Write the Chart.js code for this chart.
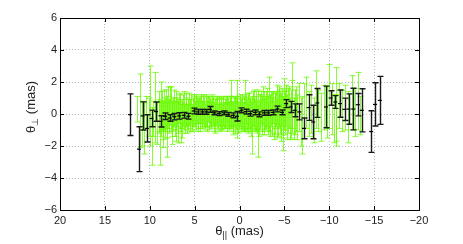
<!DOCTYPE html>
<html>
<head>
<meta charset="utf-8">
<script src="https://cdn.jsdelivr.net/npm/chart.js@4.4.0/dist/chart.umd.min.js"></script>
<style>
  body { margin: 0; background: #fff; }
  #wrap { width: 463px; height: 244px; }
</style>
</head>
<body>
<div id="wrap"><canvas id="chart" width="463" height="244"></canvas></div>
<script>
// green series: theta_par, theta_perp, error
const greenTheta = [11.4, 11.1, 10.9, 10.6, 10.4, 10.1, 9.95, 9.8, 9.6, 9.4, 9.2, 9.0, 8.85, 8.7, 8.55, 8.4, 8.25, 8.1, 7.95, 7.8,
  7.65, 7.5, 7.35, 7.2, 7.05, 6.9, 6.75, 6.6, 6.45, 6.3, 6.15, 6.0, 5.85, 5.7, 5.55, 5.4, 5.25, 5.1, 4.95, 4.8,
  4.65, 4.5, 4.35, 4.2, 4.05, 3.9, 3.75, 3.6, 3.45, 3.3, 3.15, 3.0, 2.85, 2.7, 2.55, 2.4, 2.25, 2.1, 1.95, 1.8,
  1.65, 1.5, 1.35, 1.2, 1.05, 0.9, 0.75, 0.6, 0.45, 0.3, 0.15, 0.0, -0.15, -0.3, -0.45, -0.6, -0.75, -0.9, -1.05, -1.2,
  -1.35, -1.5, -1.65, -1.8, -1.95, -2.1, -2.25, -2.4, -2.55, -2.7, -2.85, -3.0, -3.15, -3.3, -3.45, -3.6, -3.75, -3.9, -4.05, -4.2,
  -4.35, -4.5, -4.65, -4.8, -4.95, -5.1, -5.3, -5.5, -5.7, -5.9, -6.1, -6.3, -6.6, -6.8, -7.0, -7.2, -7.4, -7.7, -8.0, -8.3,
  -8.5, -8.8, -9.1, -9.4, -9.7, -10.0, -10.3, -10.5, -10.7, -10.8, -11.1, -11.4, -11.8, -12.1, -12.5, -12.9, -13.2, -13.4,
  8.925, 8.775, 8.625, 8.475, 8.325, 8.175, 8.025, 7.875, 7.725, 7.575,
  7.425, 7.275, 7.125, 6.975, 6.825, 6.675, 6.525, 6.375, 6.225, 6.075,
  5.925, 5.775, 5.625, 5.475, 5.325, 5.175, 5.025, 4.875, 4.725, 4.575,
  4.425, 4.275, 4.125, 3.975, 3.825, 3.675, 3.525, 3.375, 3.225, 3.075,
  2.925, 2.775, 2.625, 2.475, 2.325, 2.175, 2.025, 1.875, 1.725, 1.575,
  1.425, 1.275, 1.125, 0.975, 0.825, 0.675, 0.525, 0.375, 0.225, 0.075,
  -0.075, -0.225, -0.375, -0.525, -0.675, -0.825, -0.975, -1.125, -1.275, -1.425,
  -1.575, -1.725, -1.875, -2.025, -2.175, -2.325, -2.475, -2.625, -2.775, -2.925,
  -3.075, -3.225, -3.375, -3.525, -3.675, -3.825, -3.975, -4.125, -4.275, -4.425,
  -4.575, -4.725, -4.875, -5.025, -5.175, -5.4, -5.6, -5.8, -6.2, -6.45];
const greenPerp = [0.3, 0.2, -0.6, -0.9, 0.1, -0.2, 0.5, -1.4, -0.3, 0.4, -0.6, -0.1, -1.2, 0.5, -0.4, 0.2, -0.5, -0.8, 0.4, -0.2,
  0.3, -0.6, 0.1, -0.3, 0.2, -0.5, 0.3, -0.1, -0.4, 0.2, -0.2, 0.3, -0.3, 0.1, -0.1, 0.3, -0.2, 0.2, 0.0, 0.3,
  -0.2, 0.2, 0.1, -0.1, 0.3, 0.0, 0.2, -0.2, 0.3, 0.1, -0.1, 0.2, -0.2, 0.1, 0.2, -0.2, 0.1, 0.0, -0.2, 0.1,
  -0.1, 0.2, -0.2, 0.0, 0.1, 0.6, -0.3, 0.1, -0.1, 0.3, -0.2, 0.1, -0.1, 0.2, -0.2, 0.5, 0.0, -0.3, 0.2, -0.1,
  -0.9, 0.3, 0.0, 0.2, -0.2, -1.1, 0.1, 0.4, -0.2, 0.2, 0.0, 0.3, -0.3, 0.6, 0.1, -0.2, 0.4, 0.0, 0.3, -0.3,
  0.5, 0.1, -0.4, -0.6, 0.6, 0.2, -0.2, 0.4, 0.0, 1.0, -0.3, 0.3, 0.4, -0.5, -0.7, 0.5, 0.7, 0.0, 0.3, -0.4,
  0.9, 0.2, -0.2, 0.4, 0.1, 1.1, 0.3, -0.3, 0.6, -0.4, 0.5, 0.2, 0.4, -0.2, 0.7, 0.1, 0.8, -0.1,
  0.1, -0.3, 0.2, -0.7, 0.0, 0.3, -0.4, -0.1, 0.5, -0.3,
  0.0, 0.4, -0.5, 0.1, -0.2, 0.2, -0.6, 0.0, 0.4, -0.3,
  0.1, -0.2, 0.3, 0.0, -0.3, 0.1, 0.4, -0.1, 0.2, 0.0,
  -0.3, 0.3, 0.0, 0.2, -0.2, 0.1, 0.3, -0.1, 0.0, 0.3,
  0.1, -0.3, 0.2, 0.0, 0.3, -0.2, 0.1, 0.2, -0.1, 0.0,
  0.3, 0.1, -0.2, 0.2, 0.0, -0.2, 0.3, 0.0, 0.2, -0.1,
  0.3, 0.0, -0.2, 0.1, 0.3, -0.1, 0.2, 0.0, -0.3, 0.1,
  0.4, -0.1, 0.0, 0.3, -0.3, 0.2, 0.0, 0.5, -0.2, 0.1,
  0.4, 0.0, -0.2, 0.3, 0.1, -0.4, 0.2, 0.6, -0.1, 0.3,
  0.0, 0.4, -0.2, 0.1, 0.5, 0.2, -0.3, 0.6, 0.1, -0.2];
const greenErr = [0.8, 2.3, 1.4, 1.6, 1.0, 1.2, 2.5, 1.8, 1.1, 2.2, 1.3, 1.0, 2.0, 1.5, 1.2, 1.3, 1.0, 1.9, 1.3, 1.0,
  1.4, 1.3, 0.9, 1.1, 1.2, 1.3, 0.9, 1.0, 1.1, 1.0, 0.8, 1.0, 0.9, 0.8, 1.0, 0.9, 0.8, 0.9, 0.8, 0.9,
  0.9, 0.8, 1.0, 0.8, 0.9, 0.8, 1.0, 0.9, 0.8, 0.9, 0.8, 0.9, 0.9, 0.8, 0.9, 0.8, 0.9, 1.0, 0.8, 0.9,
  0.8, 0.9, 0.9, 0.8, 1.0, 1.5, 1.0, 0.9, 1.1, 1.8, 1.0, 0.9, 1.0, 1.0, 0.9, 1.6, 1.0, 0.9, 1.1, 1.0,
  1.6, 1.1, 1.0, 1.2, 1.0, 1.6, 1.1, 1.0, 1.1, 1.2, 1.0, 1.1, 1.0, 1.7, 1.1, 1.2, 1.0, 1.3, 1.1, 1.2,
  1.2, 1.3, 1.3, 1.7, 1.6, 1.2, 1.4, 1.3, 1.5, 2.2, 1.3, 1.4, 1.5, 1.5, 1.8, 1.4, 1.6, 1.4, 1.5, 1.4,
  1.8, 1.3, 1.5, 1.4, 1.6, 2.0, 1.6, 1.5, 2.3, 1.6, 1.4, 1.3, 1.4, 1.6, 1.7, 1.5, 1.8, 1.2,
  1.3, 1.1, 1.2, 1.4, 1.0, 1.2, 1.1, 1.0, 1.2, 1.1,
  1.0, 1.1, 1.2, 0.9, 1.0, 1.1, 1.2, 0.9, 1.0, 0.9,
  0.9, 0.8, 1.0, 0.9, 0.8, 0.9, 0.8, 0.9, 0.8, 0.9,
  0.8, 0.9, 0.8, 0.9, 0.8, 0.9, 0.8, 0.9, 0.8, 0.9,
  0.8, 0.9, 0.8, 0.9, 0.8, 0.9, 0.8, 0.9, 0.8, 0.9,
  0.8, 0.9, 0.8, 0.9, 0.8, 0.9, 0.8, 1.0, 0.9, 0.8,
  0.9, 1.0, 0.9, 1.0, 0.9, 1.0, 1.1, 1.0, 1.1, 1.0,
  1.1, 1.0, 1.1, 1.2, 1.1, 1.0, 1.1, 1.2, 1.1, 1.0,
  1.2, 1.1, 1.2, 1.1, 1.3, 1.2, 1.1, 1.2, 1.3, 1.2,
  1.3, 1.2, 1.3, 1.4, 1.3, 1.4, 1.3, 1.5, 1.4, 1.4];

// black series
const blackTheta = [12.2, 11.2, 10.8, 10.3, 9.8, 9.3, 8.8, 8.3, 7.78, 7.26, 6.74, 6.22, 5.7, 5.11, 4.67, 4.15, 3.7, 3.3, 2.8, 2.3,
  1.78, 1.26, 0.74, 0.3, -0.22, -0.67, -1.19, -1.7, -2.22, -2.74, -3.19, -3.7, -4.22, -4.74, -5.19, -5.7, -6.15, -6.67, -7.19, -7.7,
  -8.22, -8.67, -9.63, -10.15, -10.67, -11.19, -11.7, -12.15, -12.67, -13.19, -13.63, -14.67, -15.1, -15.63];
const blackPerp = [-0.04, -2.2, -0.12, -0.9, -0.28, 0.15, -0.46, -0.14, -0.25, -0.17, -0.12, -0.08, -0.14, 0.19, 0.13, 0.13, 0.13, 0.29, 0.07, 0.02,
  0.07, -0.02, -0.08, -0.14, 0.23, 0.15, 0.02, 0.1, -0.02, 0.07, 0.07, 0.1, 0.31, 0.1, 0.65, 0.44, 0.23, 0.13, -0.9, 0.4,
  -0.5, 0.69, 0.44, 1.0, 0.75, 0.65, 0.29, 0.31, 0.31, 0.58, 0.23, -1.1, 0.6, 0.85];
const blackErr = [1.3, 1.4, 0.88, 0.85, 0.52, 0.6, 0.35, 0.2, 0.2, 0.2, 0.2, 0.18, 0.18, 0.18, 0.15, 0.15, 0.15, 0.18, 0.12, 0.12,
  0.12, 0.12, 0.15, 0.3, 0.15, 0.15, 0.15, 0.15, 0.15, 0.15, 0.15, 0.15, 0.18, 0.15, 0.25, 0.35, 0.4, 0.5, 0.65, 0.8,
  1.05, 0.9, 1.3, 0.45, 0.4, 0.85, 0.7, 0.95, 1.3, 0.7, 1.35, 1.3, 1.35, 1.5];

const FONT = "'Liberation Sans', Arial, sans-serif";
const minus = v => String(v).replace('-', '\u2212');

function toPoints(xs, ys, es) {
    return xs.map((x, i) => ({ x: x, y: ys[i], err: es[i] }));
}

// error bars drawn under the points, through the chart scales
const errorBars = {
    id: 'errorBars',
    beforeDatasetsDraw(chart, args, opts) {
        const { ctx, chartArea, scales: { x, y } } = chart;
        ctx.save();
        ctx.beginPath();
        ctx.rect(chartArea.left, chartArea.top, chartArea.right - chartArea.left, chartArea.bottom - chartArea.top);
        ctx.clip();
        chart.data.datasets.forEach((ds, di) => {
            const st = opts.styles[di];
            ctx.strokeStyle = st.color;
            ctx.lineWidth = st.width;
            ds.data.forEach(p => {
                const px = Math.round(x.getPixelForValue(p.x)) + 0.5;
                const top = y.getPixelForValue(p.y + p.err);
                const bot = y.getPixelForValue(p.y - p.err);
                ctx.beginPath();
                ctx.moveTo(px, top); ctx.lineTo(px, bot);
                ctx.moveTo(px - st.cap, top); ctx.lineTo(px + st.cap, top);
                ctx.moveTo(px - st.cap, bot); ctx.lineTo(px + st.cap, bot);
                ctx.stroke();
            });
        });
        ctx.restore();
    }
};

// axes box, inner ticks and axis titles (MATLAB look)
const frame = {
    id: 'frame',
    afterDraw(chart) {
        const { ctx, chartArea: a, scales: { x, y } } = chart;
        ctx.save();
        ctx.strokeStyle = '#000';
        ctx.lineWidth = 1;
        ctx.strokeRect(a.left + 0.5, a.top + 0.5, a.right - a.left, a.bottom - a.top);
        ctx.beginPath();
        x.ticks.forEach(t => {
            const px = Math.round(x.getPixelForValue(t.value)) + 0.5;
            ctx.moveTo(px, a.bottom); ctx.lineTo(px, a.bottom - 4);
            ctx.moveTo(px, a.top); ctx.lineTo(px, a.top + 4);
        });
        y.ticks.forEach(t => {
            const py = Math.round(y.getPixelForValue(t.value)) + 0.5;
            ctx.moveTo(a.left, py); ctx.lineTo(a.left + 4, py);
            ctx.moveTo(a.right, py); ctx.lineTo(a.right - 4, py);
        });
        ctx.stroke();

        ctx.fillStyle = '#222';
        ctx.textBaseline = 'alphabetic';
        // x title: theta with || subscript
        const big = '13px ' + FONT, small = '9px ' + FONT;
        ctx.font = big;
        const w1 = ctx.measureText('\u03B8').width;
        const w3 = ctx.measureText(' (mas)').width;
        ctx.font = small;
        const w2 = ctx.measureText('||').width;
        let sx = (a.left + a.right) / 2 - (w1 + w2 + w3) / 2;
        const by = 235;
        ctx.font = big; ctx.fillText('\u03B8', sx, by);
        ctx.font = small; ctx.fillText('||', sx + w1, by + 3);
        ctx.font = big; ctx.fillText(' (mas)', sx + w1 + w2, by);

        // y title: theta with perp subscript, rotated
        ctx.translate(35, 133);
        ctx.rotate(-Math.PI / 2);
        ctx.font = big; ctx.fillText('\u03B8', 0, 0);
        ctx.font = small; ctx.fillText('\u22A5', w1, 3);
        const wp = ctx.measureText('\u22A5').width;
        ctx.font = big; ctx.fillText(' (mas)', w1 + wp, 0);
        ctx.restore();
    }
};

new Chart(document.getElementById('chart'), {
    type: 'scatter',
    data: {
        datasets: [
            {
                label: 'green',
                data: toPoints(greenTheta, greenPerp, greenErr),
                pointRadius: 0,
                pointHoverRadius: 0
            },
            {
                label: 'black',
                data: toPoints(blackTheta, blackPerp, blackErr),
                pointStyle: 'line',
                pointRadius: 2,
                borderColor: '#000',
                borderWidth: 1.2
            }
        ]
    },
    options: {
        responsive: false,
        animation: false,
        events: [],
        layout: { padding: { left: 0, right: 44, top: 18, bottom: 0 } },
        plugins: {
            legend: { display: false },
            tooltip: { enabled: false },
            errorBars: {
                styles: [
                    { color: 'rgba(105, 250, 0, 0.8)', width: 1, cap: 3 },
                    { color: '#1a1a1a', width: 1.4, cap: 3 }
                ]
            }
        },
        scales: {
            x: {
                type: 'linear',
                reverse: true,
                min: -20, max: 20,
                ticks: { stepSize: 5, padding: 4, color: '#222', font: { family: FONT, size: 11 }, callback: minus, maxRotation: 0 },
                grid: { color: '#b8b8b8', drawTicks: false },
                border: { display: false, dash: [1, 2] },
                afterFit: s => { s.height = 34; }
            },
            y: {
                min: -6, max: 6,
                ticks: { stepSize: 2, padding: 3, color: '#222', font: { family: FONT, size: 11 }, callback: minus },
                grid: { color: '#b8b8b8', drawTicks: false },
                border: { display: false, dash: [1, 2] },
                afterFit: s => { s.height; s.width = 60; }
            }
        }
    },
    plugins: [errorBars, frame]
});
</script>
</body>
</html>
